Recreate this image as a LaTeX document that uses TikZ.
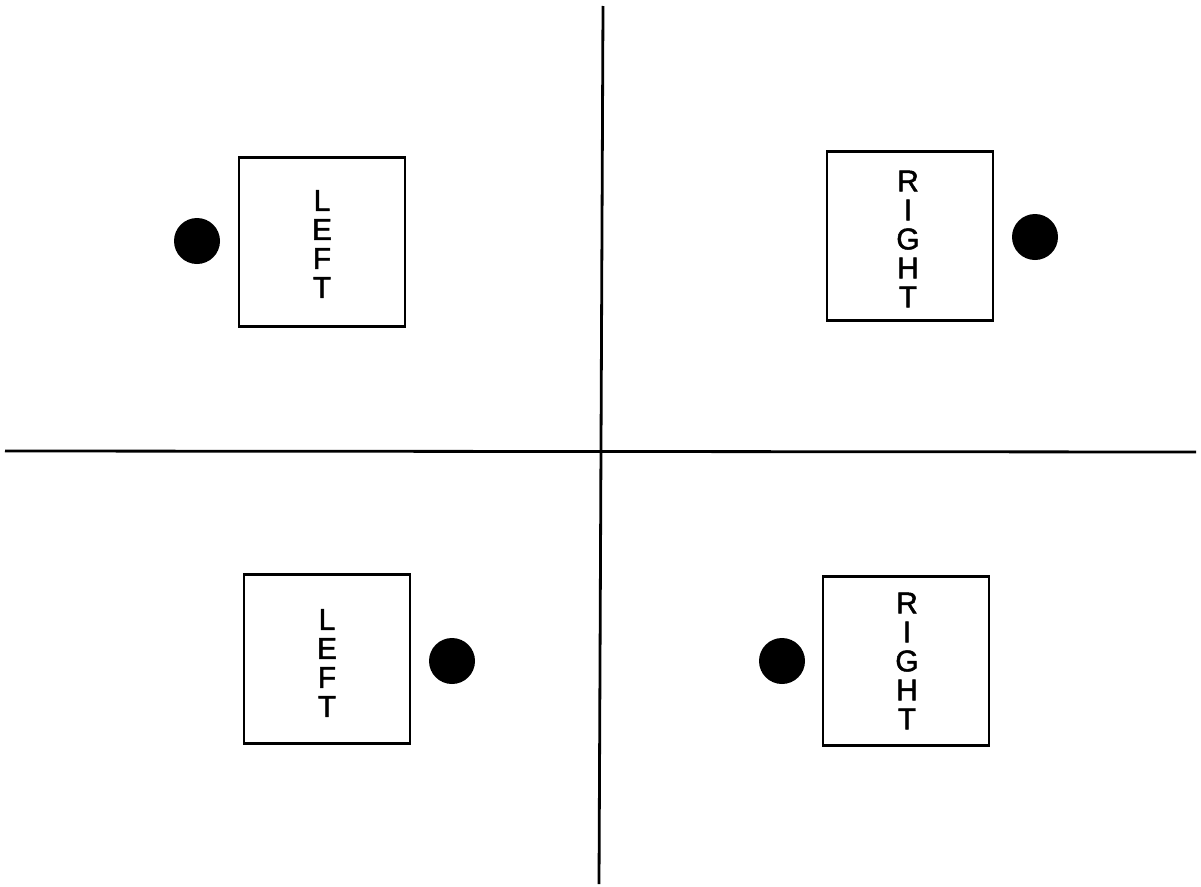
\documentclass[tikz,border=0pt]{standalone}
\usepackage{fontspec}
\setmainfont{Liberation Sans}
\newfontfamily\heavysans[FakeBold=1.6]{Liberation Sans}
\begin{document}
\begin{tikzpicture}[x=1pt,y=-1pt,
  panel/.style={draw=black,line width=2.6pt,minimum width=166pt,minimum height=169pt,inner sep=0pt},
  word/.style={align=center,inner sep=0pt,font=\heavysans\fontsize{30}{29}\selectfont},
  dot/.style={circle,fill=black,minimum size=46pt,inner sep=0pt},
  axis/.style={line width=2.8pt}]
\useasboundingbox (0,0) rectangle (1201,886);
% axes
\coordinate (vt) at (603,6);
\coordinate (vb) at (599,884);
\coordinate (hl) at (5,451);
\coordinate (hr) at (1196,452);
\draw[axis] (vt) -- (vb);
\draw[axis] (hl) -- (hr);
% top left
\node[panel] (boxTL) at (322,242) {};
\node[word] (txtTL) at (322,244) {L\\E\\F\\T};
\node[dot] (dotTL) at (197,241) {};
% top right
\node[panel] (boxTR) at (910,236) {};
\node[word] (txtTR) at (908,239) {R\\I\\G\\H\\T};
\node[dot] (dotTR) at (1035,237) {};
% bottom left
\node[panel] (boxBL) at (327,659) {};
\node[word] (txtBL) at (327,663) {L\\E\\F\\T};
\node[dot] (dotBL) at (452,661) {};
% bottom right
\node[panel] (boxBR) at (906,661) {};
\node[word] (txtBR) at (907,661) {R\\I\\G\\H\\T};
\node[dot] (dotBR) at (782,661) {};
\end{tikzpicture}
\end{document}
